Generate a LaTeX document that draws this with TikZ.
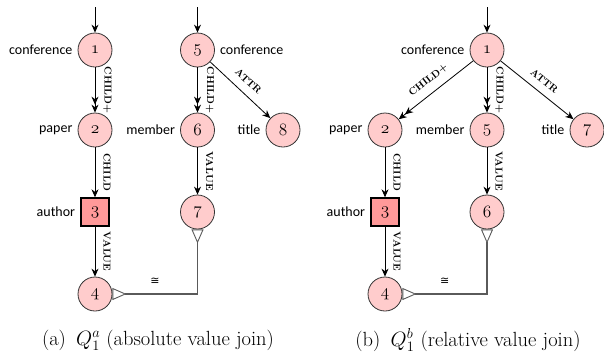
\documentclass[tikz,border=0pt]{standalone}
\usepackage{fontspec}
\newfontfamily\tagfont{Carlito}
\newfontfamily\symfont{DejaVu Sans}
\usetikzlibrary{arrows.meta}
\definecolor{nodepink}{HTML}{FFCCCC}
\definecolor{keypink}{HTML}{FF9999}
\definecolor{joingray}{HTML}{5A5A5A}
\newcommand{\osnum}[1]{$\mathnormal{#1}$}
\tikzset{
  qnode/.style={circle, draw=black!80, line width=0.8pt, fill=nodepink,
    minimum size=34pt, inner sep=0pt, font=\fontsize{19}{19}\selectfont},
  keynode/.style={rectangle, draw=black, line width=1.4pt, fill=keypink,
    minimum size=28pt, inner sep=0pt, font=\fontsize{19}{19}\selectfont},
  every label/.style={font=\tagfont\fontsize{14}{14}\selectfont, inner sep=0pt},
  label distance=5pt,
  edgeone/.style={-{Stealth[length=8pt,width=7pt]}, line width=0.8pt},
  edgeplus/.style={-{Stealth[length=8pt,width=7pt]Stealth[length=8pt,width=7pt]}, line width=0.8pt},
  elabel/.style={font=\fontsize{10}{10}\selectfont\bfseries\addfontfeature{LetterSpace=12},
    sloped, midway, above=8pt, inner sep=0pt},
  valjoin/.style={draw=joingray, line width=1.1pt,
    {Triangle[open,reversed,length=14pt,width=12pt,line width=0.9pt]}-{Triangle[open,reversed,length=14pt,width=12pt,line width=0.9pt]}},
  congsign/.style={midway, above=9pt, inner sep=0pt, font=\symfont\fontsize{11}{11}\selectfont},
  caption/.style={font=\fontsize{20.5}{20.5}\selectfont},
}
\begin{document}
\begin{tikzpicture}[x=1pt,y=-1pt]
\useasboundingbox (0,0) rectangle (604,360);

% ---------- (a) absolute value join ----------
\coordinate (ina) at (95,7);
\coordinate (inb) at (197.5,7);
\node[qnode, label=left:conference] (n1) at (95,50) {\osnum{1}};
\node[qnode, label=left:paper] (n2) at (95,130) {\osnum{2}};
\node[keynode, label=left:author] (n3) at (95,212) {\osnum{3}};
\node[qnode] (n4) at (95,294) {\osnum{4}};
\node[qnode, label=right:conference] (n5) at (197.5,50) {\osnum{5}};
\node[qnode, label=left:member] (n6) at (197.5,130) {\osnum{6}};
\node[qnode] (n7) at (197.5,212) {\osnum{7}};
\node[qnode, label=left:title] (n8) at (283,130) {\osnum{8}};

\draw[edgeone] (ina) -- (n1);
\draw[edgeone] (inb) -- (n5);
\draw[edgeplus] (n1) -- node[elabel] {CHILD+} (n2);
\draw[edgeone] (n2) -- node[elabel] {CHILD} (n3);
\draw[edgeone] (n3) -- node[elabel] {VALUE} (n4);
\draw[edgeplus] (n5) -- node[elabel] {CHILD+} (n6);
\draw[edgeone] (n5) -- node[elabel] {ATTR} (n8);
\draw[edgeone] (n6) -- node[elabel] {VALUE} (n7);
\draw[valjoin] (n4.east) -- node[congsign] {≅} (n4.east -| n7.south) -- (n7.south);

\node[caption] (capa) at (158,340) {(a)\hspace{0.5em}$Q_1^a$ (absolute value join)};

% ---------- (b) relative value join ----------
\coordinate (inc) at (487,7);
\node[qnode, label=left:conference] (m1) at (487,50) {\osnum{1}};
\node[qnode, label=left:paper] (m2) at (385,130) {\osnum{2}};
\node[keynode, label=left:author] (m3) at (385,212) {\osnum{3}};
\node[qnode] (m4) at (385,294) {\osnum{4}};
\node[qnode, label=left:member] (m5) at (487,130) {\osnum{5}};
\node[qnode] (m6) at (487,212) {\osnum{6}};
\node[qnode, label=left:title] (m7) at (587,130) {\osnum{7}};

\draw[edgeone] (inc) -- (m1);
\draw[edgeplus] (m1) -- node[elabel] {CHILD+} (m2);
\draw[edgeplus] (m1) -- node[elabel] {CHILD+} (m5);
\draw[edgeone] (m1) -- node[elabel] {ATTR} (m7);
\draw[edgeone] (m2) -- node[elabel] {CHILD} (m3);
\draw[edgeone] (m3) -- node[elabel] {VALUE} (m4);
\draw[edgeone] (m5) -- node[elabel] {VALUE} (m6);
\draw[valjoin] (m4.east) -- node[congsign] {≅} (m4.east -| m6.south) -- (m6.south);

\node[caption] (capb) at (468,340) {(b)\hspace{0.5em}$Q_1^b$ (relative value join)};
\end{tikzpicture}
\end{document}
